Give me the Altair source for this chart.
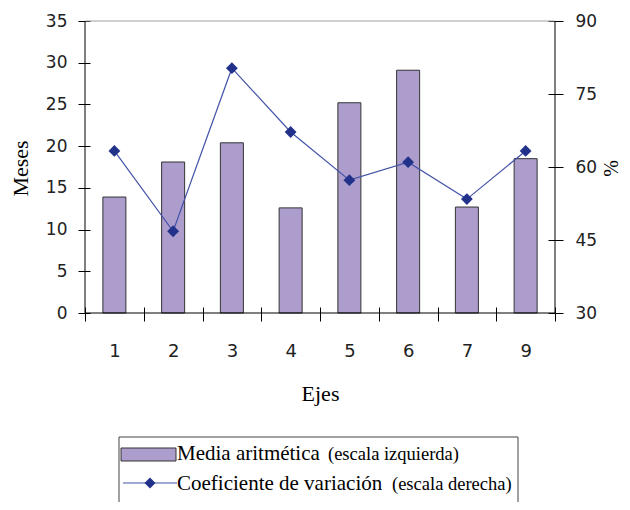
import altair as alt
import pandas as pd

# ---- data ----
ejes = ["1", "2", "3", "4", "5", "6", "7", "9"]
media = [13.9, 18.1, 20.4, 12.6, 25.2, 29.1, 12.7, 18.5]      # left scale (Meses)
coef = [63.3, 46.8, 80.3, 67.2, 57.3, 61.0, 53.4, 63.3]       # right scale (%)
left_ticks = [0, 5, 10, 15, 20, 25, 30, 35]
right_ticks = [30, 45, 60, 75, 90]

legend_main = ["Media aritmética", "Coeficiente de variación"]
legend_note = ["(escala izquierda)", "(escala derecha)"]

df = pd.DataFrame({"eje": ejes, "media": media, "coef": coef})
one = pd.DataFrame({"k": [0]})

W, H = 470, 292
BAR = "#ac9dcc"
EDGE = "#333333"
LINE = "#4353a8"
MARK = "#22328a"
TICKFONT = "DejaVu Sans"
SERIF = "Liberation Serif"

xenc = alt.X(
    "eje:N", sort=ejes,
    scale=alt.Scale(paddingInner=0, paddingOuter=0),
    axis=alt.Axis(
        title="Ejes", orient="bottom", offset=-6, tickSize=14, tickBand="extent",
        tickColor="black", domain=False, grid=False, labelAngle=0,
        labelFont=TICKFONT, labelFontSize=18, labelColor="#222222",
        labelBaseline="middle", labelPadding=30,
        titleFont=SERIF, titleFontSize=22, titleFontWeight="normal", titleColor="black",
        titleX=W / 2, titleY=86, titleBaseline="middle", titleAlign="center",
    ),
)

bars = alt.Chart(df).mark_bar(size=23, color=BAR, stroke=EDGE, strokeWidth=1).encode(
    x=xenc,
    y=alt.Y(
        "media:Q",
        scale=alt.Scale(domain=[0, 35], nice=False, zero=True),
        axis=alt.Axis(
            title="Meses", orient="left", values=left_ticks, offset=-5, tickSize=12,
            tickColor="black", domain=False, grid=False,
            labelFont=TICKFONT, labelFontSize=17, labelColor="#222222", labelPadding=11,
            titleFont=SERIF, titleFontSize=22, titleFontWeight="normal", titleColor="black",
            titleAngle=270, titleX=-70, titleY=147, titleAlign="center", titleBaseline="middle",
        ),
    ),
)

# plot frame: grey top edge, black left / bottom / right edges
toprule = alt.Chart(one).mark_rule(color="#a0a0a0", strokeWidth=1).encode(y=alt.datum(35))
botrule = alt.Chart(one).mark_rule(color="black", strokeWidth=1).encode(y=alt.datum(0))
leftrule = alt.Chart(one).mark_rule(color="black", strokeWidth=1).encode(x=alt.value(0))
rightrule = alt.Chart(one).mark_rule(color="black", strokeWidth=1).encode(x=alt.value(W))

yr = alt.Y(
    "coef:Q",
    scale=alt.Scale(domain=[30, 90], nice=False, zero=False),
    axis=alt.Axis(
        title="%", orient="right", values=right_ticks, offset=-7, tickSize=15,
        tickColor="black", domain=False, grid=False,
        labelFont=TICKFONT, labelFontSize=17, labelColor="#222222", labelPadding=12,
        titleFont=SERIF, titleFontSize=20, titleFontWeight="normal", titleColor="black",
        titleAngle=270, titleX=63, titleY=147, titleAlign="center", titleBaseline="middle",
    ),
)

line = alt.Chart(df).mark_line(color=LINE, strokeWidth=1.2).encode(x=xenc, y=yr)
pts = alt.Chart(df).mark_point(shape="diamond", filled=True, size=140, color=MARK, opacity=1).encode(
    x=xenc, y=yr
)

# ---- legend (drawn as decoration below the plot) ----
box = alt.Chart(one).mark_rect(fill="white", stroke="#444444", strokeWidth=1).encode(
    x=alt.value(34), x2=alt.value(433), y=alt.value(416), y2=alt.value(520)
)
swatch = alt.Chart(one).mark_rect(fill=BAR, stroke=EDGE, strokeWidth=1).encode(
    x=alt.value(36), x2=alt.value(91), y=alt.value(427), y2=alt.value(440)
)
lg_line = alt.Chart(one).mark_rule(color=LINE, strokeWidth=1.2).encode(
    x=alt.value(38), x2=alt.value(92), y=alt.value(462)
)
lg_pt = alt.Chart(one).mark_point(shape="diamond", filled=True, size=120, color=MARK, opacity=1).encode(
    x=alt.value(65), y=alt.value(462)
)
t1 = alt.Chart(one).mark_text(align="left", baseline="middle", font=SERIF, fontSize=21, color="black").encode(
    x=alt.value(92), y=alt.value(433), text=alt.value(legend_main[0])
)
t1b = alt.Chart(one).mark_text(align="left", baseline="middle", font=SERIF, fontSize=18.5, color="black").encode(
    x=alt.value(243), y=alt.value(433), text=alt.value(legend_note[0])
)
t2 = alt.Chart(one).mark_text(align="left", baseline="middle", font=SERIF, fontSize=21, color="black").encode(
    x=alt.value(92), y=alt.value(463), text=alt.value(legend_main[1])
)
t2b = alt.Chart(one).mark_text(align="left", baseline="middle", font=SERIF, fontSize=18.5, color="black").encode(
    x=alt.value(307), y=alt.value(463), text=alt.value(legend_note[1])
)

chart = (
    alt.layer(
        alt.layer(bars, toprule, botrule),
        alt.layer(line, pts),
        leftrule, rightrule,
        box, swatch, lg_line, lg_pt, t1, t1b, t2, t2b,
    )
    .resolve_scale(y="independent")
    .properties(
        width=W, height=H,
        autosize=alt.AutoSizeParams(type="none"),
        padding={"left": 77, "top": 13, "right": 67, "bottom": 189},
        background="white",
    )
    .configure_view(stroke=None)
)

chart.save("out.html", embed_options={"renderer": "svg", "actions": False})
